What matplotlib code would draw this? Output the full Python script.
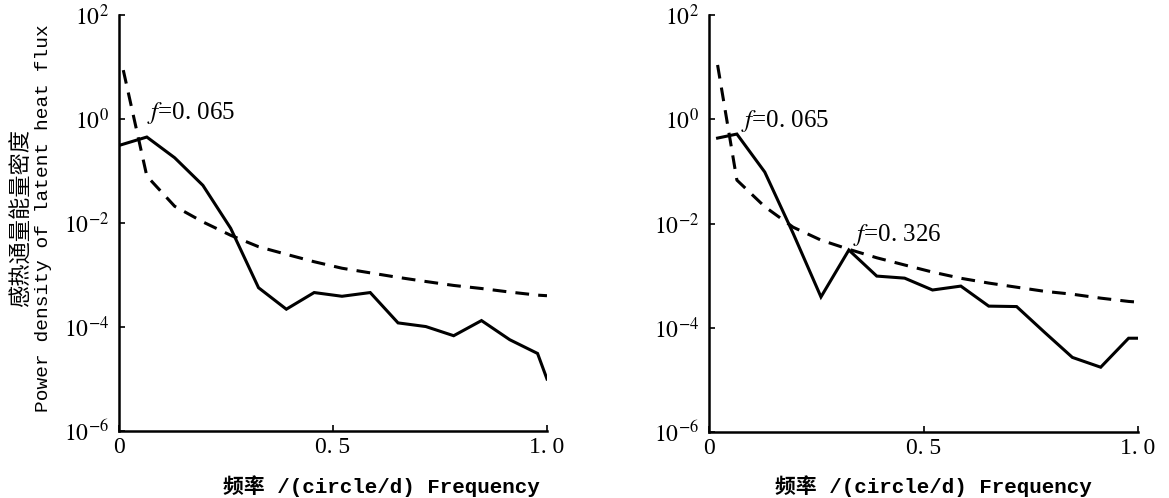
import numpy as np
import matplotlib
matplotlib.use("Agg")
import matplotlib.pyplot as plt

plt.rcParams['mathtext.fontset'] = 'stix'
plt.rcParams['font.family'] = ['Liberation Serif', 'Noto Sans CJK SC']

# frequency grid (circle/d)
freq_a = [0.0, 0.065, 0.13, 0.196, 0.261, 0.326, 0.391, 0.456, 0.521,
          0.587, 0.652, 0.717, 0.782, 0.847, 0.913, 0.978, 1.0]
freq_b = [0.02, 0.065, 0.13, 0.196, 0.261, 0.326, 0.391, 0.456, 0.521,
          0.587, 0.652, 0.717, 0.782, 0.847, 0.913, 0.978, 1.0]
freq_red = [0.01, 0.065, 0.13, 0.196, 0.261, 0.326, 0.391, 0.456, 0.521,
            0.587, 0.652, 0.717, 0.782, 0.847, 0.913, 0.978, 1.0]
freq_red_b = [0.02, 0.065, 0.13, 0.196, 0.261, 0.326, 0.391, 0.456, 0.521,
              0.587, 0.652, 0.717, 0.782, 0.847, 0.913, 0.978, 1.0]

# left panel
spec_a = [0.31, 0.45, 0.18, 0.053, 0.0079, 5.7e-4, 2.2e-4, 4.6e-4, 3.9e-4,
          4.6e-4, 1.2e-4, 1.02e-4, 6.8e-5, 1.33e-4, 5.7e-5, 3.1e-5, 1.0e-5]
red_a = [8.7, 0.08, 0.021, 0.0105, 0.0058, 0.0035, 0.0025, 0.0018, 0.00135,
         0.0011, 0.0009, 0.00075, 0.00063, 0.00055, 0.00047, 0.00041, 0.0004]

# right panel
spec_b = [0.435, 0.52, 0.097, 0.0065, 3.9e-4, 3.1e-3, 9.8e-4, 8.95e-4, 5.3e-4,
          6.3e-4, 2.6e-4, 2.55e-4, 8.2e-5, 2.7e-5, 1.75e-5, 6.3e-5, 6.3e-5]
red_b = [11.0, 0.068, 0.021, 0.0085, 0.0048, 0.0032, 0.0022, 0.0016, 0.00117,
         0.00089, 0.00072, 0.0006, 0.0005, 0.00044, 0.00037, 0.00032, 0.00031]

yticks = [1e-6, 1e-4, 1e-2, 1e0, 1e2]
ytick_labels = [r'$10^{-6}$', r'$10^{-4}$', r'$10^{-2}$', r'$10^{0}$', r'$10^{2}$']
xticks = [0, 0.5, 1.0]
xtick_labels = ['0', '0. 5', '1. 0']

ylabel_cn = '感热通量能量密度'
ylabel_en = 'Power density of latent heat flux'
xlabel = '频率 /(circle/d) Frequency'

fig = plt.figure(figsize=(11.69, 4.98), dpi=100)
ax1 = fig.add_axes([0.1018, 0.1345, 0.3661, 0.8354])
ax2 = fig.add_axes([0.6065, 0.1325, 0.3670, 0.8374])

panels = [(ax1, freq_a, spec_a, freq_red, red_a),
          (ax2, freq_b, spec_b, freq_red_b, red_b)]

for ax, fx, sp, fr, rd in panels:
    ax.plot(fx, sp, color='black', lw=2.2, solid_joinstyle='miter')
    ax.plot(fr, rd, color='black', lw=2.2, dashes=(4.5, 3.0))
    ax.set_yscale('log')
    ax.set_xlim(0, 1.0)
    ax.set_ylim(1e-6, 1e2)
    ax.set_yticks(yticks)
    ax.set_yticklabels(ytick_labels, fontsize=17)
    ax.set_xticks(xticks)
    ax.set_xticklabels(xtick_labels, fontsize=17)
    ax.minorticks_off()
    ax.tick_params(axis='y', direction='in', length=4, width=1.2, pad=7)
    ax.tick_params(axis='x', direction='in', length=4, width=1.2, pad=4)
    for s in ['top', 'right']:
        ax.spines[s].set_visible(False)
    for s in ['left', 'bottom']:
        ax.spines[s].set_linewidth(1.8)
    ax.patch.set_visible(False)

ax1.text(0.065, 1.3, r'$f$=0. 065', fontsize=18, va='center', ha='left')
ax2.text(0.075, 0.93, r'$f$=0. 065', fontsize=18, va='center', ha='left')
ax2.text(0.336, 0.006, r'$f$=0. 326', fontsize=18, va='center', ha='left')

fig.text(0.0180, 0.563, ylabel_cn, rotation=90, fontsize=16, ha='center', va='center',
         family=['Noto Sans CJK SC'], fontweight='medium')
fig.text(0.0375, 0.562, ylabel_en, rotation=90, fontsize=14, ha='center', va='center',
         family=['Liberation Mono', 'Noto Sans CJK SC'])

fig.text(381 / 1169, 0.024, xlabel, fontsize=15, ha='center', va='center',
         family=['Liberation Mono', 'Noto Sans CJK SC'], fontweight='bold')
fig.text(933 / 1169, 0.024, xlabel, fontsize=15, ha='center', va='center',
         family=['Liberation Mono', 'Noto Sans CJK SC'], fontweight='bold')

fig.savefig('out.png', dpi=100)
